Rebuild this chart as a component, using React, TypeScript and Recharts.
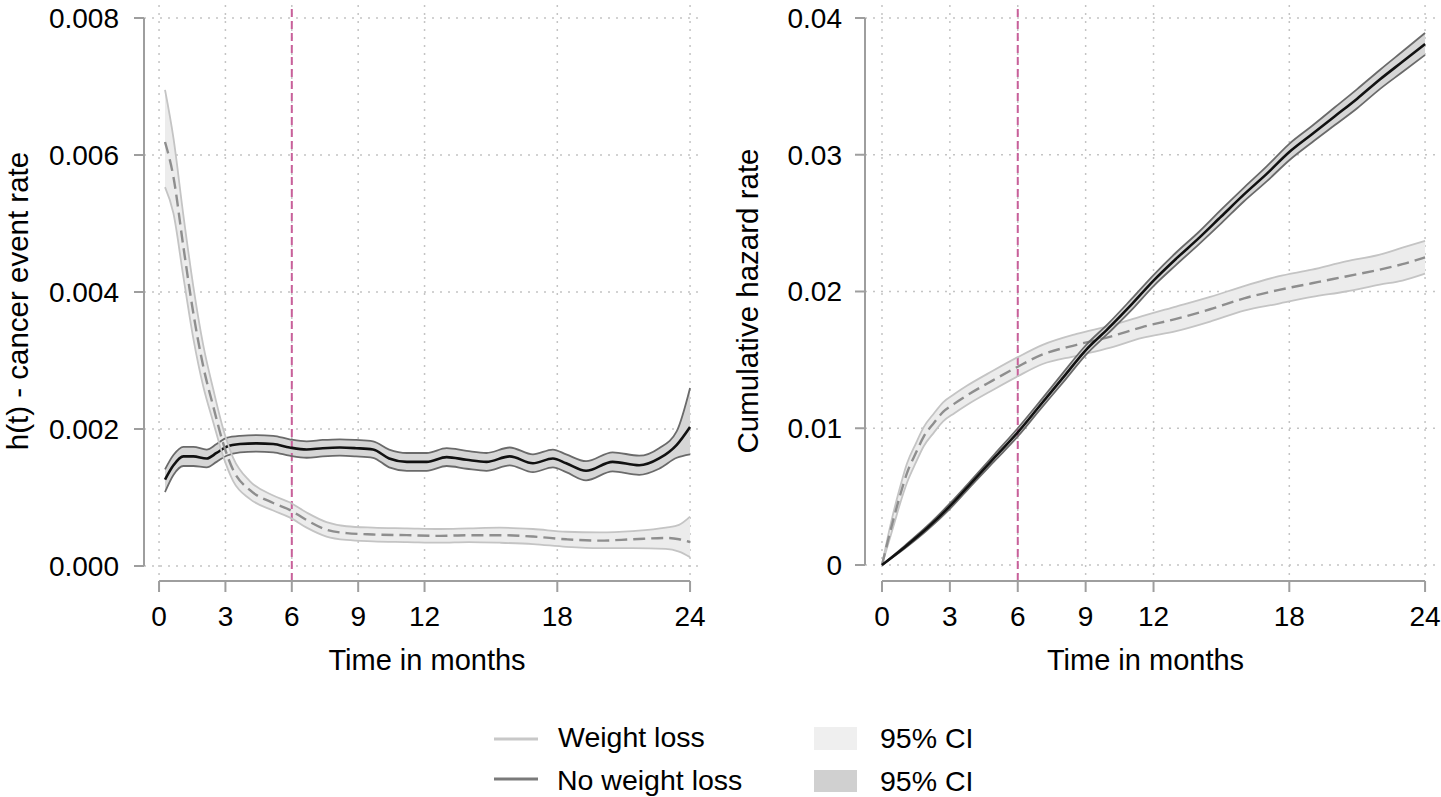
import { ComposedChart, Line, Area, XAxis, YAxis, CartesianGrid, ReferenceLine } from 'recharts';

const FONT = '"Liberation Sans", Arial, Helvetica, sans-serif';
const AXIS = '#9e9e9e';
const GRID = '#c4c4c4';
const CUTOFF = '#c8609a';

const monthTicks = [0, 3, 6, 9, 12, 18, 24];
const rateTicks = [0, 0.002, 0.004, 0.006, 0.008];
const cumTicks = [0, 0.01, 0.02, 0.03, 0.04];

// h(t) - weight loss
const wlRateMonths = [0.27, 0.65, 1.1, 1.55, 2.0, 2.45, 2.9, 3.35, 4.1, 5.16, 5.9, 6.67, 7.57, 8.47, 9.67, 11.2, 12.7, 14.0, 15.4, 16.9, 18.4, 19.9, 21.4, 22.9, 23.5, 24.0];
const wlRate = [0.00619, 0.00568, 0.00466, 0.00369, 0.00291, 0.00233, 0.00179, 0.0014, 0.00111, 0.00092, 0.00082, 0.00067, 0.00053, 0.00048, 0.00046, 0.00045, 0.00044, 0.00045, 0.00045, 0.00043, 0.00039, 0.00037, 0.00039, 0.00041, 0.00039, 0.00035];
const wlRateHi = [0.00695, 0.00625, 0.00512, 0.00408, 0.00322, 0.00258, 0.002, 0.00158, 0.00124, 0.00103, 0.00093, 0.00078, 0.00064, 0.00058, 0.00056, 0.00055, 0.00054, 0.00055, 0.00056, 0.00054, 0.0005, 0.00049, 0.00051, 0.00056, 0.0006, 0.00072];
const wlRateLo = [0.00553, 0.00515, 0.00422, 0.00332, 0.00262, 0.0021, 0.0016, 0.00124, 0.00098, 0.00081, 0.00071, 0.00056, 0.00043, 0.00038, 0.00036, 0.00035, 0.00034, 0.00035, 0.00034, 0.00032, 0.00028, 0.00026, 0.00026, 0.00025, 0.00021, 0.00013];

// h(t) - no weight loss
const nwRateMonths = [0.27, 0.65, 1.1, 1.55, 2.15, 2.6, 3.05, 3.66, 4.4, 5.16, 5.9, 6.67, 7.4, 8.17, 8.9, 9.67, 10.4, 11.2, 12.1, 13.0, 13.9, 14.8, 15.85, 16.9, 17.8, 18.4, 19.3, 20.5, 21.7, 22.6, 23.4, 24.0];
const nwRate = [0.00126, 0.00147, 0.0016, 0.0016, 0.00157, 0.00165, 0.00174, 0.00178, 0.00179, 0.00178, 0.00173, 0.0017, 0.00172, 0.00173, 0.00172, 0.0017, 0.00157, 0.00152, 0.00152, 0.00159, 0.00155, 0.00152, 0.0016, 0.0015, 0.00157, 0.0015, 0.00139, 0.00152, 0.00147, 0.00157, 0.00177, 0.00203];
const nwRateHi = [0.00141, 0.00162, 0.00174, 0.00174, 0.0017, 0.00178, 0.00187, 0.0019, 0.00191, 0.0019, 0.00185, 0.00182, 0.00184, 0.00185, 0.00184, 0.00182, 0.0017, 0.00165, 0.00165, 0.00172, 0.00168, 0.00165, 0.00173, 0.00163, 0.0017, 0.00163, 0.00153, 0.00166, 0.00161, 0.00172, 0.00197, 0.0026];
const nwRateLo = [0.00108, 0.00133, 0.00146, 0.00146, 0.00144, 0.00152, 0.00161, 0.00166, 0.00167, 0.00166, 0.00161, 0.00158, 0.0016, 0.00161, 0.0016, 0.00158, 0.00144, 0.00139, 0.00139, 0.00146, 0.00142, 0.00139, 0.00147, 0.00137, 0.00144, 0.00137, 0.00125, 0.00138, 0.00133, 0.00142, 0.00158, 0.00163];

// cumulative hazard - weight loss
const wlCumMonths = [0, 0.25, 0.5, 0.8, 1.1, 1.5, 1.85, 2.3, 2.7, 3.2, 3.75, 4.9, 6.0, 7.1, 8.6, 10.1, 11.5, 13.0, 14.5, 16.0, 17.5, 19.0, 20.5, 22.0, 23.0, 24.0];
const wlCum = [0, 0.0017, 0.0033, 0.0051, 0.0067, 0.0082, 0.0094, 0.0104, 0.0112, 0.0118, 0.0124, 0.0135, 0.0145, 0.0154, 0.0161, 0.0167, 0.0174, 0.018, 0.0187, 0.0195, 0.0201, 0.0206, 0.0211, 0.0216, 0.022, 0.0225];
const wlCumHi = [0, 0.002, 0.0038, 0.0057, 0.0074, 0.0089, 0.0101, 0.0111, 0.0119, 0.0125, 0.0131, 0.0142, 0.0152, 0.0161, 0.0169, 0.0175, 0.0182, 0.0189, 0.0196, 0.0204, 0.0211, 0.0216, 0.0222, 0.0227, 0.0232, 0.0237];
const wlCumLo = [0, 0.0014, 0.0028, 0.0045, 0.006, 0.0075, 0.0087, 0.0097, 0.0105, 0.0111, 0.0117, 0.0128, 0.0138, 0.0147, 0.0153, 0.0159, 0.0166, 0.0171, 0.0178, 0.0186, 0.0191, 0.0196, 0.02, 0.0205, 0.0208, 0.0213];

// cumulative hazard - no weight loss
const nwCumMonths = [0, 1, 2, 3, 4, 5, 6, 7, 8, 9, 10, 11, 12, 13, 14, 15, 16, 17, 18, 19, 20, 21, 22, 23, 24];
const nwCum = [0, 0.0013, 0.0027, 0.0043, 0.0061, 0.0079, 0.0097, 0.0117, 0.0137, 0.0157, 0.0173, 0.019, 0.0208, 0.0224, 0.0239, 0.0255, 0.0271, 0.0286, 0.0302, 0.0315, 0.0328, 0.0341, 0.0355, 0.0368, 0.0381];
const nwCumHi = [0, 0.0014, 0.00285, 0.0045, 0.0063, 0.00815, 0.01, 0.012, 0.01405, 0.01605, 0.01765, 0.0194, 0.0212, 0.02285, 0.02435, 0.026, 0.0276, 0.02915, 0.0308, 0.0321, 0.03345, 0.0348, 0.0362, 0.03755, 0.0389];
const nwCumLo = [0, 0.0012, 0.00255, 0.0041, 0.0059, 0.00765, 0.0094, 0.0114, 0.01335, 0.01535, 0.01695, 0.0186, 0.0204, 0.02195, 0.02345, 0.025, 0.0266, 0.02805, 0.0296, 0.0309, 0.03215, 0.0334, 0.0348, 0.03605, 0.0373];

type Row = { m: number; mid: number; lo: number; hi: number; band: [number, number] };

function rows(months: number[], mid: number[], lo: number[], hi: number[]): Row[] {
  return months.map((m, i) => ({ m, mid: mid[i], lo: lo[i], hi: hi[i], band: [lo[i], hi[i]] }));
}

function WeightLoss({ data }: { data: Row[] }) {
  return [
    <Area key="wl-band" data={data} dataKey="band" type="monotone" stroke="none" fill="#ececec" fillOpacity={1} dot={false} activeDot={false} isAnimationActive={false} />,
    <Line key="wl-hi" data={data} dataKey="hi" type="monotone" stroke="#c4c4c4" strokeWidth={1.8} dot={false} activeDot={false} isAnimationActive={false} />,
    <Line key="wl-lo" data={data} dataKey="lo" type="monotone" stroke="#c4c4c4" strokeWidth={1.8} dot={false} activeDot={false} isAnimationActive={false} />,
    <Line key="wl-mid" data={data} dataKey="mid" type="monotone" stroke="#8e8e8e" strokeWidth={2.4} strokeDasharray="12 6" dot={false} activeDot={false} isAnimationActive={false} />,
  ];
}

function NoWeightLoss({ data }: { data: Row[] }) {
  return [
    <Area key="nw-band" data={data} dataKey="band" type="monotone" stroke="none" fill="#d6d6d6" fillOpacity={1} dot={false} activeDot={false} isAnimationActive={false} />,
    <Line key="nw-hi" data={data} dataKey="hi" type="monotone" stroke="#6a6a6a" strokeWidth={1.8} dot={false} activeDot={false} isAnimationActive={false} />,
    <Line key="nw-lo" data={data} dataKey="lo" type="monotone" stroke="#6a6a6a" strokeWidth={1.8} dot={false} activeDot={false} isAnimationActive={false} />,
    <Line key="nw-mid" data={data} dataKey="mid" type="monotone" stroke="#111" strokeWidth={2.6} dot={false} activeDot={false} isAnimationActive={false} />,
  ];
}

interface PanelProps {
  left: number;
  width: number;
  yAxisWidth: number;
  marginRight: number;
  xDomain: [number, number];
  yDomain: [number, number];
  yTicks: number[];
  fmt: (v: number) => string;
  yTickMargin: number;
  yTitle: string;
  yTitleX: number;
  xTitleDx: number;
  wl: Row[];
  nw: Row[];
  wlOnTop: boolean;
}

function Panel(p: PanelProps) {
  const height = 700;
  const plotLeft = p.yAxisWidth;
  const plotRight = p.width - p.marginRight;
  const xTitle = () => (
    <text x={(plotLeft + plotRight) / 2 + p.xTitleDx} y={670} textAnchor="middle" fontSize={29} fill="#000">
      Time in months
    </text>
  );
  const yTitle = () => (
    <text x={p.yTitleX} y={301} transform={`rotate(-90 ${p.yTitleX} 301)`} textAnchor="middle" fontSize={29.5} fill="#000">
      {p.yTitle}
    </text>
  );
  const wlSeries = WeightLoss({ data: p.wl });
  const nwSeries = NoWeightLoss({ data: p.nw });
  return (
    <div style={{ position: 'absolute', left: p.left, top: 0 }}>
      <ComposedChart width={p.width} height={height} margin={{ top: 5, right: p.marginRight, left: 0, bottom: 0 }} style={{ fontFamily: FONT }}>
        <CartesianGrid
          stroke={GRID}
          strokeDasharray="2 6"
          strokeWidth={1.5}
          verticalValues={monthTicks}
          horizontalValues={p.yTicks}
        />
        <ReferenceLine x={6} stroke={CUTOFF} strokeWidth={2} strokeDasharray="8 4" ifOverflow="visible" />
        <XAxis
          dataKey="m"
          type="number"
          domain={p.xDomain}
          allowDataOverflow
          ticks={monthTicks}
          interval={0}
          height={119}
          tickSize={11}
          tickMargin={14}
          axisLine={false}
          tickLine={{ stroke: AXIS, strokeWidth: 2 }}
          tick={{ fill: '#000', fontSize: 28 }}
          label={{ content: xTitle }}
        />
        <YAxis
          type="number"
          domain={p.yDomain}
          allowDataOverflow
          ticks={p.yTicks}
          interval={0}
          width={p.yAxisWidth}
          tickSize={10}
          tickMargin={p.yTickMargin}
          axisLine={false}
          tickLine={{ stroke: AXIS, strokeWidth: 2 }}
          tick={{ fill: '#000', fontSize: 28 }}
          tickFormatter={p.fmt}
          label={{ content: yTitle }}
        />
        {p.wlOnTop ? nwSeries : wlSeries}
        {p.wlOnTop ? wlSeries : nwSeries}
        <ReferenceLine
          segment={[{ x: p.xDomain[0], y: p.yTicks[0] }, { x: p.xDomain[0], y: p.yTicks[p.yTicks.length - 1] }]}
          stroke={AXIS}
          strokeWidth={2}
          ifOverflow="visible"
        />
        <ReferenceLine
          segment={[{ x: monthTicks[0], y: p.yDomain[0] }, { x: monthTicks[monthTicks.length - 1], y: p.yDomain[0] }]}
          stroke={AXIS}
          strokeWidth={2}
          ifOverflow="visible"
        />
      </ComposedChart>
    </div>
  );
}

function LegendBox() {
  const txt = { fontSize: 28.5, fill: '#000' };
  return (
    <svg width={1441} height={97} style={{ position: 'absolute', left: 0, top: 700, fontFamily: FONT }}>
      <line x1={494} x2={538} y1={39} y2={39} stroke="#c8c8c8" strokeWidth={3} />
      <text x={558} y={47} {...txt}>Weight loss</text>
      <line x1={494} x2={538} y1={79} y2={79} stroke="#7a7a7a" strokeWidth={3} />
      <text x={557} y={90} {...txt}>No weight loss</text>
      <rect x={814} y={27} width={43} height={23} fill="#efefef" />
      <text x={880} y={48} {...txt}>95% CI</text>
      <rect x={814} y={70} width={43} height={22} fill="#d0d0d0" />
      <text x={880} y={91} {...txt}>95% CI</text>
    </svg>
  );
}

export default function App() {
  return (
    <div style={{ position: 'absolute', left: 0, top: 0, width: 1441, height: 797, background: '#fff', fontFamily: FONT }}>
      <Panel
        left={0}
        width={720}
        yAxisWidth={144}
        marginRight={18}
        xDomain={[-0.68, 24.54]}
        yDomain={[-0.000219, 0.00819]}
        yTicks={rateTicks}
        fmt={(v) => v.toFixed(3)}
        yTickMargin={15}
        yTitle="h(t) - cancer event rate"
        yTitleX={28}
        xTitleDx={4}
        wl={rows(wlRateMonths, wlRate, wlRateLo, wlRateHi)}
        nw={rows(nwRateMonths, nwRate, nwRateLo, nwRateHi)}
        wlOnTop
      />
      <Panel
        left={720}
        width={721}
        yAxisWidth={145}
        marginRight={1}
        xDomain={[-0.751, 24.66]}
        yDomain={[-0.00117, 0.04095]}
        yTicks={cumTicks}
        fmt={(v) => (v === 0 ? '0' : String(v))}
        yTickMargin={13}
        yTitle="Cumulative hazard rate"
        yTitleX={38}
        xTitleDx={-7}
        wl={rows(wlCumMonths, wlCum, wlCumLo, wlCumHi)}
        nw={rows(nwCumMonths, nwCum, nwCumLo, nwCumHi)}
        wlOnTop={false}
      />
      <LegendBox />
    </div>
  );
}
